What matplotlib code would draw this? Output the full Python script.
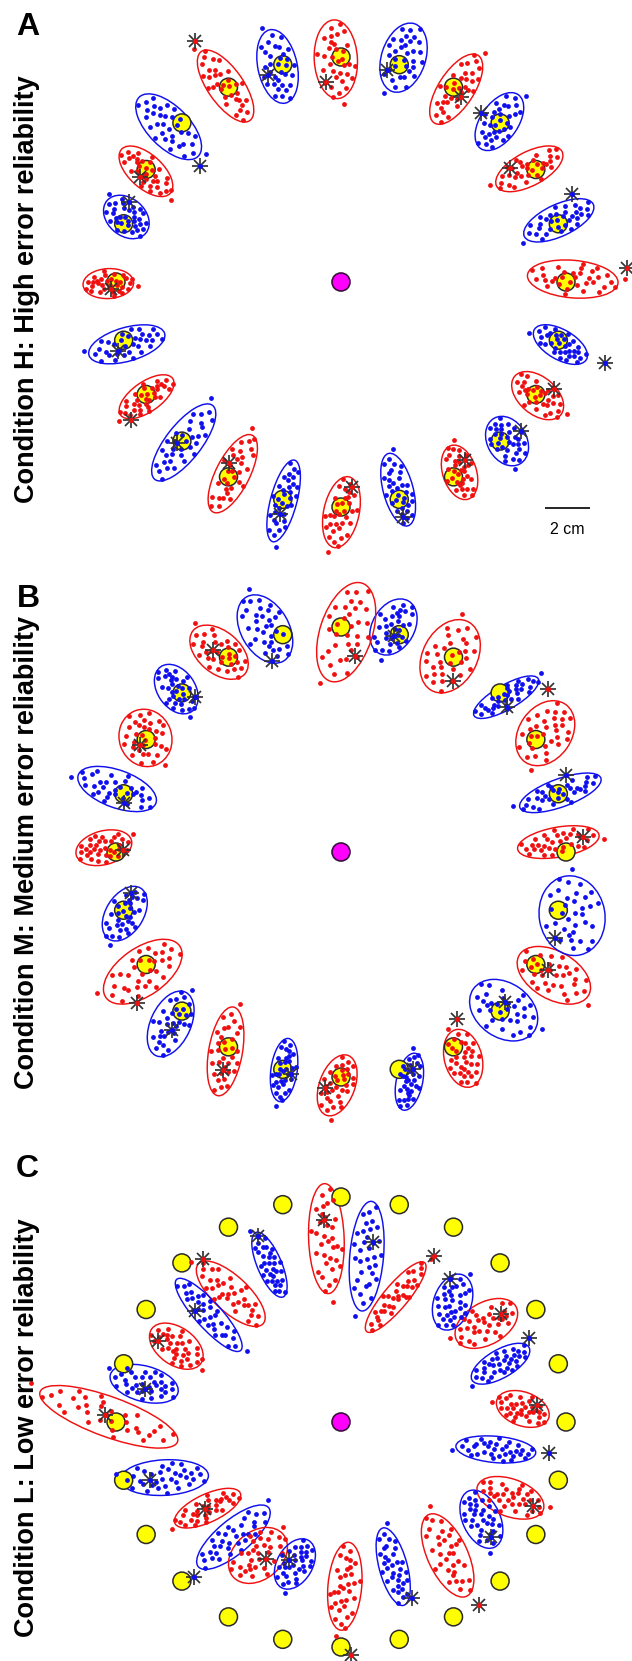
import numpy as np
import matplotlib
matplotlib.use("Agg")
import matplotlib.pyplot as plt
from matplotlib.patches import Ellipse, Circle

plt.rcParams['font.family'] = ['Liberation Sans', 'DejaVu Sans']

# ---------------------------------------------------------------- data (cm)
TARGET_RADIUS = 10.0
TARGET_ANGLES = [0, 15, 30, 45, 60, 75, 90, 105, 120, 135, 150, 165,
                 180, 195, 210, 225, 240, 255, 270, 285, 300, 315, 330, 345]
TARGET_COLORS = ['red', 'blue'] * 12

# Condition H: endpoint ellipses (centre, full axes, orientation) and feedback
A_ELL_X = [10.30, 9.68, 8.37, 7.04, 5.12, 2.78, -0.23, -2.82, -5.13, -7.66, -8.67, -9.54,
           -10.34, -9.52, -8.64, -6.99, -4.81, -2.55, 0.02, 2.54, 5.27, 7.38, 8.74, 9.75]
A_ELL_Y = [0.13, 2.74, 5.03, 7.13, 8.57, 9.97, 9.90, 9.58, 8.71, 6.90, 4.92, 2.89,
           -0.07, -2.77, -5.10, -7.13, -8.52, -9.73, -10.23, -9.23, -8.46, -7.07, -5.05, -2.78]
A_ELL_MAJOR = [4.04, 3.38, 3.29, 2.92, 3.58, 3.17, 3.50, 3.33, 3.75, 3.71, 2.92, 2.25,
               2.25, 3.50, 2.83, 4.17, 3.83, 3.75, 3.21, 3.33, 2.50, 2.33, 2.67, 2.67]
A_ELL_MINOR = [1.67, 1.42, 1.50, 1.67, 1.58, 1.96, 1.92, 1.75, 1.58, 1.83, 1.50, 1.67,
               1.33, 1.50, 1.33, 1.58, 1.50, 1.17, 1.58, 1.33, 1.50, 1.75, 1.67, 1.33]
A_ELL_ANGLE = [-5, 25, 28, 55, 57, 72, 93, 102, 125, 135, 138, 140,
               3, 16, 35, 52, 63, 75, 78, 105, 108, 120, 140, 150]
A_STAR_X = [12.72, 10.25, 7.51, 6.22, 5.32, 2.06, -0.67, -3.23, -6.51, -6.28, -8.93, -9.42,
            -10.23, -9.91, -9.34, -7.29, -4.98, -2.69, 0.48, 2.76, 5.50, 7.98, 9.48, 11.72]
A_STAR_Y = [0.61, 3.90, 5.05, 7.53, 8.23, 9.43, 8.90, 9.20, 10.71, 5.17, 4.68, 3.57,
            -0.33, -3.05, -6.13, -7.14, -8.03, -10.33, -9.13, -10.46, -7.91, -6.63, -4.76, -3.62]

# Condition M
B_ELL_X = [9.66, 9.75, 9.08, 7.34, 4.85, 2.33, 0.23, -3.38, -5.42, -7.32, -8.69, -9.95,
           -10.54, -9.61, -8.81, -7.57, -5.13, -2.53, -0.17, 3.04, 5.43, 7.23, 9.46, 10.27]
B_ELL_Y = [0.44, 2.63, 5.28, 6.88, 8.70, 10.00, 9.77, 9.91, 8.88, 7.24, 5.07, 2.80,
           0.19, -2.74, -5.32, -7.64, -8.86, -9.69, -10.37, -10.21, -9.17, -7.03, -5.48, -2.83]
B_ELL_MAJOR = [3.67, 3.83, 3.13, 3.29, 3.46, 2.67, 4.58, 3.29, 3.00, 2.42, 2.58, 3.67,
               2.54, 2.67, 4.00, 3.11, 4.00, 2.83, 2.83, 2.58, 2.63, 3.29, 3.56, 3.56]
B_ELL_MINOR = [1.33, 1.25, 2.33, 1.08, 2.42, 1.88, 2.33, 2.13, 1.88, 1.67, 2.33, 1.67,
               1.50, 1.67, 2.13, 1.78, 1.50, 1.17, 1.58, 1.17, 1.67, 2.42, 2.13, 2.92]
B_ELL_ANGLE = [10, 20, 55, 30, 62, 60, 72, 120, 140, 125, 110, 160,
               15, 58, 35, 65, 80, 82, 70, 78, 105, 145, 150, 100]
B_STAR_X = [10.75, 10.02, 9.18, 7.38, 4.96, 2.36, 0.61, -3.07, -5.70, -6.48, -8.93, -9.64,
            -9.68, -9.33, -9.08, -7.49, -5.25, -2.21, -0.72, 3.21, 5.14, 7.29, 9.18, 9.49]
B_STAR_Y = [0.68, 3.43, 7.23, 6.46, 7.62, 9.60, 8.73, 8.49, 8.98, 6.90, 4.76, 2.17,
            0.09, -1.81, -6.70, -7.91, -9.69, -9.88, -10.48, -9.66, -7.43, -6.65, -5.24, -3.81]

# Condition L
C_ELL_X = [8.08, 7.09, 6.46, 4.96, 2.43, 1.14, -0.65, -3.18, -4.90, -5.88, -7.32, -8.75,
           -10.32, -7.85, -5.93, -4.78, -3.69, -2.05, 0.17, 2.32, 4.74, 6.24, 7.53, 6.88]
C_ELL_Y = [0.58, 2.59, 4.38, 5.33, 5.55, 7.37, 8.15, 6.99, 5.70, 4.76, 3.37, 1.70,
           0.23, -2.47, -3.83, -5.12, -5.93, -6.31, -7.30, -6.43, -5.93, -4.32, -3.37, -1.22]
C_ELL_MAJOR = [2.44, 2.92, 3.03, 2.58, 4.00, 4.89, 4.89, 3.11, 3.92, 4.25, 2.67, 3.11,
               6.50, 3.92, 3.20, 4.08, 2.92, 2.42, 3.92, 3.56, 4.00, 2.75, 3.11, 3.56]
C_ELL_MINOR = [1.50, 1.25, 1.87, 1.67, 1.08, 1.50, 1.58, 1.08, 1.58, 1.17, 1.67, 1.58,
               1.78, 1.58, 1.25, 1.50, 2.13, 1.58, 1.50, 1.25, 1.78, 1.67, 1.67, 1.17]
C_ELL_ANGLE = [160, 30, 30, 70, 50, 85, 92, 113, 137, 132, 145, 165,
               160, 3, 25, 40, 40, 60, 85, 105, 115, 115, 160, 175]
C_STAR_X = [8.69, 8.37, 7.11, 4.83, 4.12, 1.42, -0.74, -3.69, -6.15, -6.51, -8.12, -8.69,
            -10.49, -8.48, -6.06, -6.55, -3.34, -2.30, 0.44, 3.17, 6.13, 6.66, 8.55, 9.23]
C_STAR_Y = [0.76, 3.72, 4.78, 6.36, 7.39, 7.98, 8.98, 8.27, 7.23, 4.95, 3.62, 1.47,
            0.29, -2.58, -3.88, -6.88, -6.10, -6.13, -10.36, -7.83, -8.13, -5.10, -3.73, -1.37]

# Reach endpoints in ellipse units (1 = on the ellipse), two recorded sets
ENDPOINTS_1_U = [0.05, -0.20, 0.30, -0.45, 0.55, -0.10, 0.15, -0.65, 0.70, 0.40, -0.35, -0.55,
                 0.25, 0.85, -0.80, 0.00, 0.10, -0.25, 0.35, -0.05, 0.60, -0.70, 0.45, -0.40,
                 0.20, -0.15, 0.95, -0.90, 0.50, 1.15, -0.30, 0.15, -0.60, 0.75]
ENDPOINTS_1_V = [0.10, 0.35, -0.15, -0.20, 0.25, -0.55, 0.60, 0.10, -0.30, 0.50, 0.55, -0.50,
                 -0.60, 0.05, -0.15, 0.30, -0.30, 0.05, 0.15, -0.15, -0.55, 0.45, -0.05, -0.05,
                 0.85, -0.85, -0.20, 0.30, 0.70, 0.25, -0.30, 0.35, -0.15, 0.40]
ENDPOINTS_2_U = [-0.05, 0.25, -0.30, 0.45, -0.50, 0.10, -0.15, 0.65, -0.70, 0.30, -0.40, 0.75,
                 -0.60, 0.05, 0.20, -0.85, 0.90, -0.20, 0.35, -0.10, 0.55, -0.45, 0.15, -0.30,
                 0.80, -0.75, 0.40, -0.05, 0.60, -1.10, 0.00, 0.25, -0.55, 0.50]
ENDPOINTS_2_V = [0.05, 0.30, -0.25, -0.35, 0.30, -0.45, 0.55, 0.15, -0.20, 0.65, 0.70, -0.45,
                 -0.60, 0.85, -0.80, 0.05, 0.30, 0.20, -0.10, -0.35, 0.45, -0.45, 0.10, 0.40,
                 -0.10, 0.50, -0.70, -0.65, -0.20, -0.35, 0.45, -0.25, 0.10, 0.05]

SCALE_BAR_CM = 2.0
PANEL_TITLES = ['Condition H: High error reliability',
                'Condition M: Medium error reliability',
                'Condition L: Low error reliability']
PANEL_LETTERS = ['A', 'B', 'C']

# ---------------------------------------------------------------- layout (px)
FIG_W, FIG_H = 632, 1661
PX_PER_CM = 22.5
PANEL_BANDS = [(0, 567), (567, 1137), (1137, 1661)]
PANEL_CENTRES = [(341, 282), (341, 852), (341, 1422)]
LETTER_POS = [(28, 35), (28, 607), (27, 1177)]
TITLE_POS = [(34, 289), (34, 852), (34, 1428)]

RED = '#f01010'
BLUE = '#1010ee'
COLOR_MAP = {'red': RED, 'blue': BLUE}
STAR_COLOR = '#333333'

fig = plt.figure(figsize=(FIG_W / 100, FIG_H / 100), dpi=100)
fig.patch.set_facecolor('white')

panels = [
    (A_ELL_X, A_ELL_Y, A_ELL_MAJOR, A_ELL_MINOR, A_ELL_ANGLE, A_STAR_X, A_STAR_Y),
    (B_ELL_X, B_ELL_Y, B_ELL_MAJOR, B_ELL_MINOR, B_ELL_ANGLE, B_STAR_X, B_STAR_Y),
    (C_ELL_X, C_ELL_Y, C_ELL_MAJOR, C_ELL_MINOR, C_ELL_ANGLE, C_STAR_X, C_STAR_Y),
]
endpoint_sets = [(np.array(ENDPOINTS_1_U), np.array(ENDPOINTS_1_V)),
                 (np.array(ENDPOINTS_2_U), np.array(ENDPOINTS_2_V))]

for p, (ex, ey, emaj, emin, eang, sx, sy) in enumerate(panels):
    top, bottom = PANEL_BANDS[p]
    cx, cy = PANEL_CENTRES[p]
    ax = fig.add_axes([0, 1 - bottom / FIG_H, 1, (bottom - top) / FIG_H])
    ax.set_xlim(-cx / PX_PER_CM, (FIG_W - cx) / PX_PER_CM)
    ax.set_ylim(-(bottom - cy) / PX_PER_CM, (cy - top) / PX_PER_CM)
    ax.axis('off')

    # start position
    ax.add_patch(Circle((0, 0), 0.4, facecolor='#ff00ff', edgecolor='#3a103a',
                        linewidth=1.2, zorder=3))

    # targets
    for ang in TARGET_ANGLES:
        t = np.deg2rad(ang)
        ax.add_patch(Circle((TARGET_RADIUS * np.cos(t), TARGET_RADIUS * np.sin(t)), 0.4,
                            facecolor='#ffff00', edgecolor='#2a2a2a', linewidth=1.1,
                            zorder=2.5))

    for k in range(24):
        col = COLOR_MAP[TARGET_COLORS[k]]
        a, b = emaj[k] / 2, emin[k] / 2
        th = np.deg2rad(eang[k])
        ax.add_patch(Ellipse((ex[k], ey[k]), emaj[k], emin[k], angle=eang[k],
                             fill=False, edgecolor=col, linewidth=1.05, zorder=2))
        pu, pv = endpoint_sets[(k + p) % 2]
        fu = 1 if ((k // 2 + p) % 2 == 0) else -1
        fv = 1 if ((k // 4) % 2 == 0) else -1
        lu, lv = fu * pu * a, fv * pv * b
        px = ex[k] + lu * np.cos(th) - lv * np.sin(th)
        py = ey[k] + lu * np.sin(th) + lv * np.cos(th)
        ax.scatter(px, py, s=12, color=col, linewidths=0, zorder=3)

        # feedback position
        ax.plot(sx[k], sy[k], marker='+', markersize=11.5, markeredgewidth=1.25,
                color=STAR_COLOR, linestyle='none', zorder=4)
        ax.plot(sx[k], sy[k], marker='x', markersize=8.2, markeredgewidth=1.25,
                color=STAR_COLOR, linestyle='none', zorder=4)
        ax.scatter([sx[k]], [sy[k]], s=14, color=col, linewidths=0, zorder=5)

    if p == 0:
        x0 = (545 - cx) / PX_PER_CM
        ybar = (cy - 508) / PX_PER_CM
        ax.plot([x0, x0 + SCALE_BAR_CM], [ybar, ybar], color='black', linewidth=1.2,
                solid_capstyle='butt')
        ax.text(x0 + SCALE_BAR_CM / 2, (cy - 534) / PX_PER_CM,
                f'{SCALE_BAR_CM:g} cm', ha='center', va='baseline', fontsize=11.5)

    lx, ly = LETTER_POS[p]
    fig.text(lx / FIG_W, 1 - ly / FIG_H, PANEL_LETTERS[p], ha='center', va='baseline',
             fontsize=23, fontweight='bold')
    tx, ty = TITLE_POS[p]
    fig.text(tx / FIG_W, 1 - ty / FIG_H, PANEL_TITLES[p], rotation=90,
             rotation_mode='anchor', ha='center', va='baseline',
             fontsize=19.5, fontweight='bold')

fig.savefig('out.png', dpi=100, facecolor='white')
